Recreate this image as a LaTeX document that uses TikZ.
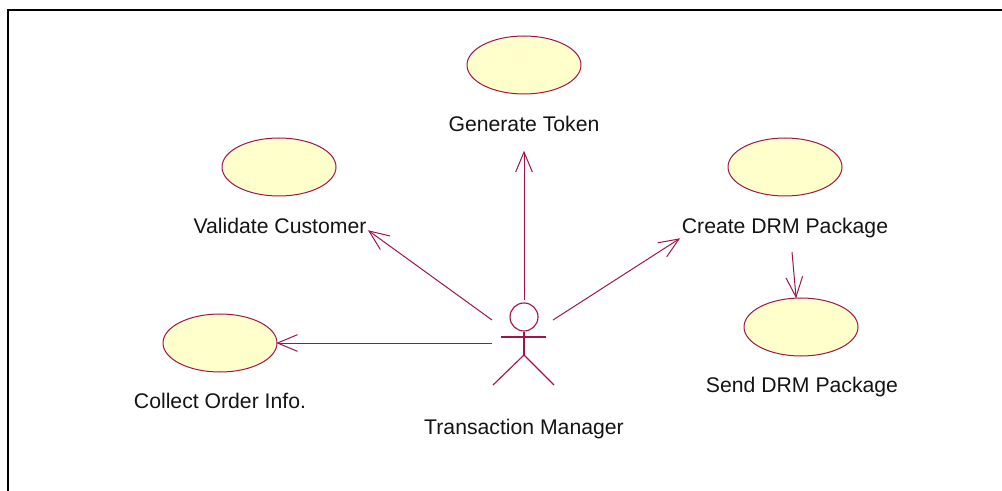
\documentclass[tikz,border=0pt]{standalone}
\usepackage{fontspec}
\setmainfont{Liberation Sans}
\usetikzlibrary{arrows.meta,shapes.geometric}
\definecolor{umlline}{RGB}{160,20,75}
\definecolor{umlfill}{RGB}{255,255,204}
\pgfdeclarearrow{
  name=OpenV,
  defaults={length=15pt,width=12pt},
  setup code={
    \pgfarrowssettipend{0pt}
    \pgfarrowssetlineend{-0.4pt}
    \pgfarrowssetvisualbackend{-\pgfarrowlength}
    \pgfarrowssavethe\pgfarrowlength
    \pgfarrowssavethe\pgfarrowwidth
  },
  drawing code={
    \pgfsetdash{}{0pt}
    \pgfsetmiterjoin
    \pgfpathmoveto{\pgfqpoint{-\pgfarrowlength}{0.5\pgfarrowwidth}}
    \pgfpathlineto{\pgfqpoint{0pt}{0pt}}
    \pgfpathlineto{\pgfqpoint{-\pgfarrowlength}{-0.5\pgfarrowwidth}}
    \pgfusepathqstroke
  }
}
\tikzset{
  usecase/.style={ellipse,draw=umlline,fill=umlfill,line width=0.75pt,minimum width=85.5pt,minimum height=43.5pt,inner sep=0pt},
  lbl/.style={font=\fontsize{15.9pt}{18pt}\selectfont,text=black!92,inner sep=0pt,anchor=base},
  assoc/.style={draw=umlline,line width=0.75pt,-{OpenV[length=15pt,width=12.5pt]}},
  actorline/.style={draw=umlline,line width=0.85pt},
  frameline/.style={draw=black,line width=1.5pt}
}
\begin{document}
\begin{tikzpicture}[x=0.75pt,y=-0.75pt]
\useasboundingbox (0,0) rectangle (1002,491);
\coordinate (fa) at (8,491);
\coordinate (fb) at (8,10);
\coordinate (fc) at (1002,10);
\draw[frameline] (fa) -- (fb) -- (fc);
\node[usecase] (gen) at (524,65) {};
\node[usecase] (val) at (279,167) {};
\node[usecase] (cre) at (785,167) {};
\node[usecase] (sen) at (801,327) {};
\node[usecase] (col) at (220,343) {};
\node[lbl] (tgen) at (524,132) {Generate Token};
\node[lbl] (tval) at (280,234) {Validate Customer};
\node[lbl] (tcre) at (785,234) {Create DRM Package};
\node[lbl] (tsen) at (802,392) {Send DRM Package};
\node[lbl] (tcol) at (220,408) {Collect Order Info.};
\node[lbl] (tact) at (524,434) {Transaction Manager};
% actor
\node[circle,actorline,minimum size=21pt,inner sep=0pt] (head) at (524,317) {};
\coordinate (armL) at (501,337);
\coordinate (armR) at (546,337);
\coordinate (hip) at (524,355);
\coordinate (legL) at (493,385);
\coordinate (legR) at (554,385);
\draw[actorline] (armL) -- (armR);
\draw[actorline] (head.south) -- (hip);
\draw[actorline] (legL) -- (hip) -- (legR);
% connectors
\coordinate (s1) at (524,300); \coordinate (e1) at (524,152);
\coordinate (s2) at (492,320); \coordinate (e2) at (369,231);
\coordinate (s3) at (553,320); \coordinate (e3) at (679,239);
\coordinate (s4) at (792,252); \coordinate (e4) at (796,297);
\coordinate (s5) at (492,343);
\draw[assoc] (s1) -- (e1);
\draw[assoc] (s2) -- (e2);
\draw[assoc] (s3) -- (e3);
\draw[assoc] (s4) -- (e4);
\draw[assoc] (s5) -- (col.east);
\end{tikzpicture}
\end{document}
